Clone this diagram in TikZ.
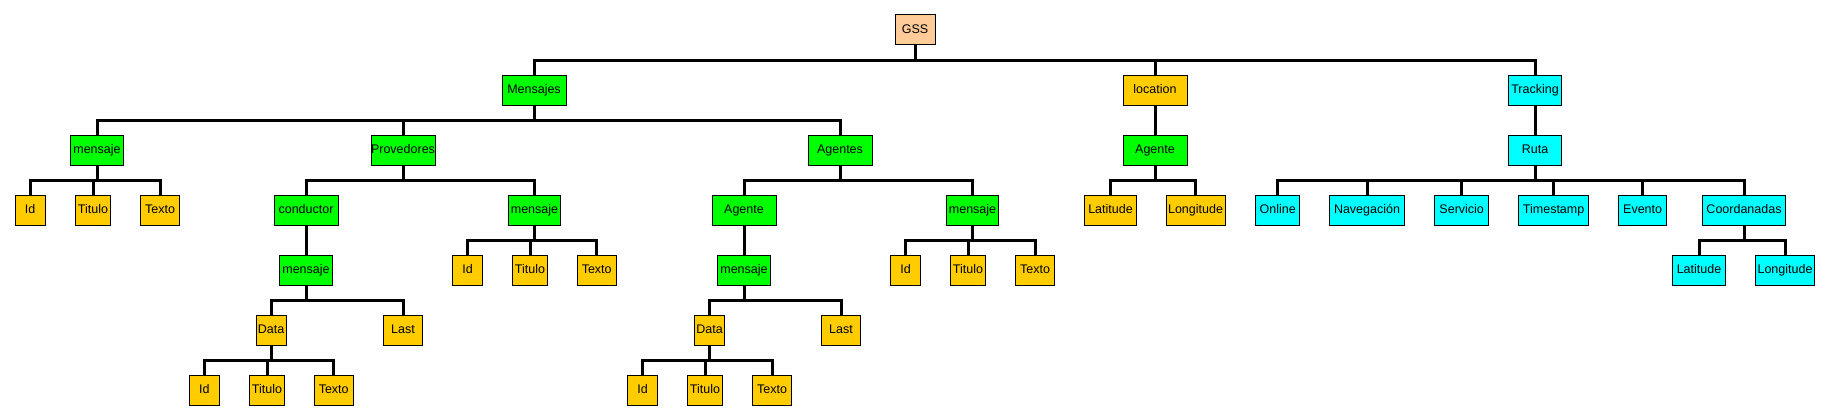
\documentclass[tikz,border=0pt]{standalone}
\usepackage{fontspec}
\setmainfont{Liberation Sans}
\definecolor{cgreen}{HTML}{00FF00}
\definecolor{corange}{HTML}{FFCC00}
\definecolor{ccyan}{HTML}{00FFFF}
\definecolor{cpeach}{HTML}{FFCC99}
\tikzset{
  box/.style={draw=black, line width=1pt, minimum height=30pt, inner sep=0pt, font=\fontsize{12.5}{14}\selectfont, text=black, text height=9pt, text depth=2.5pt},
  gbox/.style={box, fill=cgreen},
  obox/.style={box, fill=corange},
  cbox/.style={box, fill=ccyan},
  pbox/.style={box, fill=cpeach},
  conn/.style={draw=black, line width=3pt, line join=miter}
}
\begin{document}
\begin{tikzpicture}[x=1pt, y=-1pt]
\useasboundingbox (0,0) rectangle (1830,420);
% level 0
\node[pbox, minimum width=40pt] (gss) at (915,30) {GSS};
% level 1
\node[gbox, minimum width=64pt] (mens) at (534,90) {Mensajes};
\node[obox, minimum width=64pt] (loc) at (1155,90) {location};
\node[cbox, minimum width=53pt] (track) at (1535,90) {Tracking};
% level 2
\node[gbox, minimum width=53pt] (m1) at (97,150) {mensaje};
\node[gbox, minimum width=64pt] (prov) at (403,150) {Provedores};
\node[gbox, minimum width=64pt] (agts) at (840,150) {Agentes};
\node[gbox, minimum width=64pt] (ag1) at (1155,150) {Agente};
\node[cbox, minimum width=53pt] (ruta) at (1535,150) {Ruta};
% level 3
\node[obox, minimum width=30pt] (id1) at (30,210) {Id};
\node[obox, minimum width=35pt] (tit1) at (93,210) {Titulo};
\node[obox, minimum width=39pt] (tex1) at (160,210) {Texto};
\node[gbox, minimum width=64pt] (cond) at (306,210) {conductor};
\node[gbox, minimum width=52pt] (m2) at (534.5,210) {mensaje};
\node[gbox, minimum width=64pt] (ag2) at (744,210) {Agente};
\node[gbox, minimum width=52pt] (m3) at (972.5,210) {mensaje};
\node[obox, minimum width=52pt] (lat1) at (1110.5,210) {Latitude};
\node[obox, minimum width=59pt] (lon1) at (1195.5,210) {Longitude};
\node[cbox, minimum width=44pt] (onl) at (1277.7,210) {Online};
\node[cbox, minimum width=75pt] (nav) at (1367,210) {Navegación};
\node[cbox, minimum width=54pt] (serv) at (1461.7,210) {Servicio};
\node[cbox, minimum width=70pt] (time) at (1553.6,210) {Timestamp};
\node[cbox, minimum width=48pt] (evt) at (1642.6,210) {Evento};
\node[cbox, minimum width=83pt] (coord) at (1744,210) {Coordanadas};
% level 4
\node[gbox, minimum width=53pt] (m4) at (306,270) {mensaje};
\node[obox, minimum width=30pt] (id2) at (467.6,270) {Id};
\node[obox, minimum width=35pt] (tit2) at (530,270) {Titulo};
\node[obox, minimum width=39pt] (tex2) at (596.7,270) {Texto};
\node[gbox, minimum width=53pt] (m5) at (744,270) {mensaje};
\node[obox, minimum width=30pt] (id3) at (905.5,270) {Id};
\node[obox, minimum width=35pt] (tit3) at (968,270) {Titulo};
\node[obox, minimum width=39pt] (tex3) at (1035,270) {Texto};
\node[cbox, minimum width=53pt] (lat2) at (1699,270) {Latitude};
\node[cbox, minimum width=59pt] (lon2) at (1785,270) {Longitude};
% level 5
\node[obox, minimum width=30pt] (data1) at (271,330) {Data};
\node[obox, minimum width=39pt] (last1) at (403,330) {Last};
\node[obox, minimum width=30pt] (data2) at (709.5,330) {Data};
\node[obox, minimum width=39pt] (last2) at (841,330) {Last};
% level 6
\node[obox, minimum width=30pt] (id4) at (204.4,390) {Id};
\node[obox, minimum width=35pt] (tit4) at (267,390) {Titulo};
\node[obox, minimum width=39pt] (tex4) at (333.7,390) {Texto};
\node[obox, minimum width=30pt] (id5) at (642.5,390) {Id};
\node[obox, minimum width=35pt] (tit5) at (705,390) {Titulo};
\node[obox, minimum width=39pt] (tex5) at (772,390) {Texto};
% connectors
\foreach \p/\c in {gss/mens, gss/loc, gss/track,
  mens/m1, mens/prov, mens/agts, loc/ag1, track/ruta,
  m1/id1, m1/tit1, m1/tex1, prov/cond, prov/m2, agts/ag2, agts/m3,
  ag1/lat1, ag1/lon1, ruta/onl, ruta/nav, ruta/serv, ruta/time, ruta/evt, ruta/coord,
  cond/m4, m2/id2, m2/tit2, m2/tex2, ag2/m5, m3/id3, m3/tit3, m3/tex3,
  coord/lat2, coord/lon2, m4/data1, m4/last1, m5/data2, m5/last2,
  data1/id4, data1/tit4, data1/tex4, data2/id5, data2/tit5, data2/tex5}
  \draw[conn] (\p.south) -- ++(0,15) -| (\c.north);
\end{tikzpicture}
\end{document}
